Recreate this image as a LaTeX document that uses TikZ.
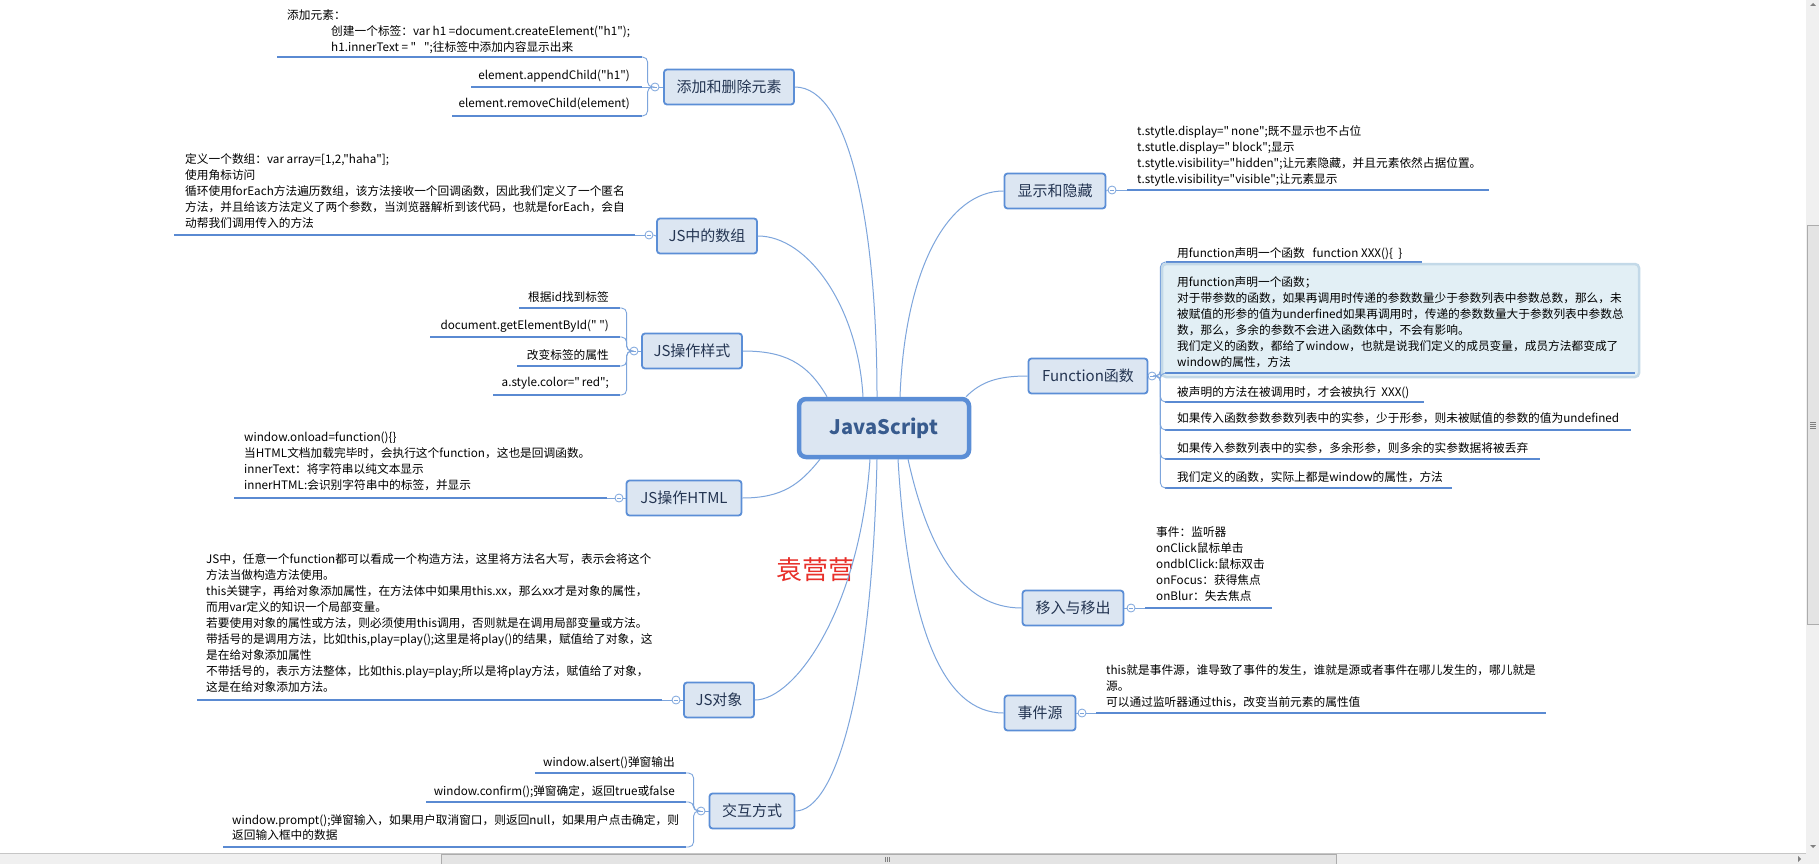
\documentclass[tikz,border=0pt]{standalone}
\usepackage{fontspec}
\setmainfont{Noto Sans CJK SC}[Ligatures=TeXOff]
\usetikzlibrary{positioning}
\definecolor{topicfill}{HTML}{DCE6F2}
\definecolor{linkblue}{HTML}{5B8ED6}
\definecolor{branchblue}{HTML}{7DA5DC}
\definecolor{ulblue}{HTML}{5A8AD2}
\definecolor{topictext}{HTML}{243552}
\definecolor{roottext}{HTML}{385B8E}
\definecolor{selfill}{HTML}{E2EFF5}
\definecolor{seldraw}{HTML}{C3D9E8}
\definecolor{sbgray}{HTML}{F0F0F0}
\definecolor{sbthumb}{HTML}{E4E4E4}
\definecolor{namered}{HTML}{E8302A}
\tikzset{
  root/.style={draw=linkblue, line width=4.5pt, fill=topicfill, rounded corners=7pt,
    minimum width=170pt, minimum height=58pt, inner sep=0pt,
    font=\fontsize{20}{24}\selectfont\bfseries, text=roottext},
  topic/.style={draw=linkblue, line width=1.8pt, fill=topicfill, rounded corners=3pt,
    minimum height=35pt, inner sep=0pt, font=\fontsize{15}{18}\selectfont, text=topictext},
  leaf/.style={inner sep=0pt, align=left, font=\fontsize{11.7}{16}\selectfont},
  uline/.style={draw=ulblue, line width=2.6pt},
  branch/.style={draw=branchblue, line width=1pt},
  sub/.style={draw=branchblue, line width=0.9pt, rounded corners=5pt},
  fold/.style={circle, draw=branchblue, fill=white, line width=0.8pt, minimum size=8pt, inner sep=0pt,
    path picture={\draw[branchblue, line width=0.6pt]
      ([xshift=-2pt]path picture bounding box.center) -- ([xshift=2pt]path picture bounding box.center);}},
}
\begin{document}
\begin{tikzpicture}[x=1pt,y=-1pt]
\useasboundingbox (0,0) rectangle (1819,864);
\fill[white] (0,0) rectangle (1819,864);
% root and main topics
\node[root] (js) at (884,428) {JavaScript};
\node[topic, minimum width=130pt] (t1) at (729,87) {添加和删除元素};
\node[topic, minimum width=100pt] (t2) at (707,236) {JS中的数组};
\node[topic, minimum width=100pt] (t3) at (692,351) {JS操作样式};
\node[topic, minimum width=115pt] (t4) at (684,498) {JS操作HTML};
\node[topic, minimum width=70pt] (t5) at (719,700) {JS对象};
\node[topic, minimum width=85pt] (t6) at (752,811) {交互方式};
\node[topic, minimum width=101pt] (t7) at (1055,191) {显示和隐藏};
\node[topic, minimum width=119pt] (t8) at (1088,376) {Function函数};
\node[topic, minimum width=101pt] (t9) at (1073,608) {移入与移出};
\node[topic, minimum width=71pt] (t10) at (1040,713) {事件源};
\node[text=namered, font=\fontsize{26}{28}\selectfont] (name) at (815,570) {袁营营};
% root to topics
\draw[branch] ([xshift=-7pt]js.north) .. controls +(0,-170) and +(55,0) .. (t1.east);
\draw[branch] ([xshift=-21pt]js.north) .. controls +(-5,-90) and +(50,0) .. (t2.east);
\draw[branch] ([xshift=-57pt]js.north) .. controls +(-20,-35) and +(40,0) .. (t3.east);
\draw[branch] ([xshift=-64pt]js.south) .. controls +(-20,25) and +(40,0) .. (t4.east);
\draw[branch] ([xshift=-14pt]js.south) .. controls +(-10,150) and +(40,0) .. (t5.east);
\draw[branch] ([xshift=-7pt]js.south) .. controls +(-5,230) and +(40,0) .. (t6.east);
\draw[branch] ([xshift=16pt]js.north) .. controls +(5,-130) and +(-55,0) .. (t7.west);
\draw[branch] ([xshift=82pt]js.north) .. controls +(15,-15) and +(-30,0) .. (t8.west);
\draw[branch] ([xshift=24pt]js.south) .. controls +(20,90) and +(-60,0) .. (t9.west);
\draw[branch] ([xshift=14pt]js.south) .. controls +(10,170) and +(-60,0) .. (t10.west);
% 添加和删除元素
\node[fold] (c1) at (655,87) {};
\draw[sub] (t1.west) -- (c1.east);
\node[leaf, anchor=north west] (a1) at (287,9) {添加元素：\\
  \hspace*{44pt}创建一个标签：var h1 =document.createElement("h1");\\
  \hspace*{44pt}h1.innerText = "\ \ \ ";往标签中添加内容显示出来};
\draw[uline] (277,57) -- (642,57) coordinate (a1r);
\node[leaf, anchor=north east] (a2) at (630,70) {element.appendChild("h1")};
\draw[uline] (471,87) -- (642,87) coordinate (a2r);
\node[leaf, anchor=north east] (a3) at (630,98) {element.removeChild(element)};
\draw[uline] (452,116) -- (642,116) coordinate (a3r);
\draw[sub] (c1.west) -- ++(-3,0) |- (a1r);
\draw[sub] (c1.west) -- (a2r);
\draw[sub] (c1.west) -- ++(-3,0) |- (a3r);
% JS中的数组
\node[fold] (c2) at (649,235) {};
\draw[sub] (t2.west) -- (c2.east);
\node[leaf, anchor=north west] (b1) at (185,153) {定义一个数组：var array=[1,2,"haha"];\\
  使用角标访问\\
  循环使用forEach方法遍历数组，该方法接收一个回调函数，因此我们定义了一个匿名\\
  方法，并且给该方法定义了两个参数，当浏览器解析到该代码，也就是forEach，会自\\
  动帮我们调用传入的方法};
\draw[uline] (174,235) -- (635,235) coordinate (b1r);
\draw[sub] (c2.west) -- (b1r);
% JS操作样式
\node[fold] (c3) at (634,351) {};
\draw[sub] (t3.west) -- (c3.east);
\node[leaf, anchor=north east] (s1) at (609,291) {根据id找到标签};
\draw[uline] (519,308) -- (620,308) coordinate (s1r);
\node[leaf, anchor=north east] (s2) at (609,320) {document.getElementById("\ ")};
\draw[uline] (430,337) -- (620,337) coordinate (s2r);
\node[leaf, anchor=north east] (s3) at (609,349) {改变标签的属性};
\draw[uline] (517,366) -- (620,366) coordinate (s3r);
\node[leaf, anchor=north east] (s4) at (609,377) {a.style.color="\,red";};
\draw[uline] (493,395) -- (620,395) coordinate (s4r);
\draw[sub] (c3.west) -- ++(-3,0) |- (s1r);
\draw[sub] (c3.west) -- ++(-3,0) |- (s2r);
\draw[sub] (c3.west) -- ++(-3,0) |- (s3r);
\draw[sub] (c3.west) -- ++(-3,0) |- (s4r);
% JS操作HTML
\node[fold] (c4) at (619,498) {};
\draw[sub] (t4.west) -- (c4.east);
\node[leaf, anchor=north west] (d1) at (244,432) {window.onload=function()\{\}\\
  当HTML文档加载完毕时，会执行这个function，这也是回调函数。\\
  innerText：将字符串以纯文本显示\\
  innerHTML:会识别字符串中的标签，并显示};
\draw[uline] (234,498) -- (607,498) coordinate (d1r);
\draw[sub] (c4.west) -- (d1r);
% JS对象
\node[fold] (c5) at (676,700) {};
\draw[sub] (t5.west) -- (c5.east);
\node[leaf, anchor=north west] (e1) at (206,553) {JS中，任意一个function都可以看成一个构造方法，这里将方法名大写，表示会将这个\\
  方法当做构造方法使用。\\
  this关键字，再给对象添加属性，在方法体中如果用this.xx，那么xx才是对象的属性，\\
  而用var定义的知识一个局部变量。\\
  若要使用对象的属性或方法，则必须使用this调用，否则就是在调用局部变量或方法。\\
  带括号的是调用方法，比如this,play=play();这里是将play()的结果，赋值给了对象，这\\
  是在给对象添加属性\\
  不带括号的，表示方法整体，比如this.play=play;所以是将play方法，赋值给了对象，\\
  这是在给对象添加方法。};
\draw[uline] (197,700) -- (662,700) coordinate (e1r);
\draw[sub] (c5.west) -- (e1r);
% 交互方式
\node[fold] (c6) at (701,811) {};
\draw[sub] (t6.west) -- (c6.east);
\node[leaf, anchor=north east] (f1) at (675,756) {window.alsert()弹窗输出};
\draw[uline] (535,773) -- (686,773) coordinate (f1r);
\node[leaf, anchor=north east] (f2) at (675,785) {window.confirm();弹窗确定，返回true或false};
\draw[uline] (426,802) -- (686,802) coordinate (f2r);
\node[leaf, anchor=north west, font=\fontsize{11.7}{15}\selectfont] (f3) at (232,814) {window.prompt();弹窗输入，如果用户取消窗口，则返回null，如果用户点击确定，则\\
  返回输入框中的数据};
\draw[uline] (223,847) -- (686,847) coordinate (f3r);
\draw[sub] (c6.west) -- ++(-3,0) |- (f1r);
\draw[sub] (c6.west) -- ++(-3,0) |- (f2r);
\draw[sub] (c6.west) -- ++(-3,0) |- (f3r);
% 显示和隐藏
\node[fold] (c7) at (1112,190) {};
\draw[sub] (t7.east) -- (c7.west);
\node[leaf, anchor=north west] (g1) at (1137,125) {t.stytle.display="\,none";既不显示也不占位\\
  t.stutle.display="\,block";显示\\
  t.stytle.visibility="hidden";让元素隐藏，并且元素依然占据位置。\\
  t.stytle.visibility="visible";让元素显示};
\draw[uline] (1127,190) coordinate (g1l) -- (1489,190);
\draw[sub] (c7.east) -- (g1l);
% Function函数
\node[fold] (c8) at (1152,376) {};
\draw[sub] (t8.east) -- (c8.west);
\node[leaf, anchor=north west] (h1) at (1177,247) {用function声明一个函数\ \ \ function XXX()\{\ \ \}};
\draw[uline] (1166,262) coordinate (h1l) -- (1422,262);
\draw[draw=seldraw, line width=2.5pt, fill=selfill, rounded corners=4pt] (1162,264) rectangle (1639,377);
\node[leaf, anchor=north west] (h2) at (1177,276) {用function声明一个函数；\\
  对于带参数的函数，如果再调用时传递的参数数量少于参数列表中参数总数，那么，未\\
  被赋值的形参的值为underfined如果再调用时，传递的参数数量大于参数列表中参数总\\
  数，那么，多余的参数不会进入函数体中，不会有影响。\\
  我们定义的函数，都给了window，也就是说我们定义的成员变量，成员方法都变成了\\
  window的属性，方法};
\draw[uline] (1165,373) coordinate (h2l) -- (1635,373);
\node[leaf, anchor=north west] (h3) at (1177,386) {被声明的方法在被调用时，才会被执行\ \ XXX()};
\draw[uline] (1165,402) coordinate (h3l) -- (1424,402);
\node[leaf, anchor=north west] (h4) at (1177,412) {如果传入函数参数参数列表中的实参，少于形参，则未被赋值的参数的值为undefined};
\draw[uline] (1165,430) coordinate (h4l) -- (1631,430);
\node[leaf, anchor=north west] (h5) at (1177,442) {如果传入参数列表中的实参，多余形参，则多余的实参数据将被丢弃};
\draw[uline] (1165,459) coordinate (h5l) -- (1540,459);
\node[leaf, anchor=north west] (h6) at (1177,471) {我们定义的函数，实际上都是window的属性，方法};
\draw[uline] (1165,488) coordinate (h6l) -- (1452,488);
\draw[sub] (c8.east) -- ++(4,0) |- (h1l);
\draw[sub] (c8.east) -- ++(4,0) |- (h2l);
\draw[sub] (c8.east) -- ++(4,0) |- (h3l);
\draw[sub] (c8.east) -- ++(4,0) |- (h4l);
\draw[sub] (c8.east) -- ++(4,0) |- (h5l);
\draw[sub] (c8.east) -- ++(4,0) |- (h6l);
% 移入与移出
\node[fold] (c9) at (1131,608) {};
\draw[sub] (t9.east) -- (c9.west);
\node[leaf, anchor=north west] (i1) at (1156,526) {事件：监听器\\
  onClick鼠标单击\\
  ondblClick:鼠标双击\\
  onFocus：获得焦点\\
  onBlur：失去焦点};
\draw[uline] (1145,608) coordinate (i1l) -- (1272,608);
\draw[sub] (c9.east) -- (i1l);
% 事件源
\node[fold] (c10) at (1082,713) {};
\draw[sub] (t10.east) -- (c10.west);
\node[leaf, anchor=north west] (j1) at (1106,664) {this就是事件源，谁导致了事件的发生，谁就是源或者事件在哪儿发生的，哪儿就是\\
  源。\\
  可以通过监听器通过this，改变当前元素的属性值};
\draw[uline] (1096,713) coordinate (j1l) -- (1546,713);
\draw[sub] (c10.east) -- (j1l);
% scroll bars
\fill[sbgray] (0,853) rectangle (1819,864);
\draw[gray!45] (0,853) -- (1806,853);
\draw[draw=gray!65, fill=sbthumb] (441,854) rectangle (1336,864);
\foreach \gx in {885,887,889} \draw[gray] (\gx,857) -- (\gx,862);
\fill[sbgray] (1806,0) rectangle (1819,853);
\draw[draw=gray!65, fill=sbthumb] (1807,225) rectangle (1819,624);
\foreach \gy in {422,424,426,428} \draw[gray] (1810,\gy) -- (1816,\gy);
\fill[gray] (1810,6) -- (1816,6) -- (1813,3) -- cycle;
\fill[gray] (1810,845) -- (1816,845) -- (1813,848) -- cycle;
\fill[gray] (1798,856) -- (1798,862) -- (1801,859) -- cycle;
\end{tikzpicture}
\end{document}
